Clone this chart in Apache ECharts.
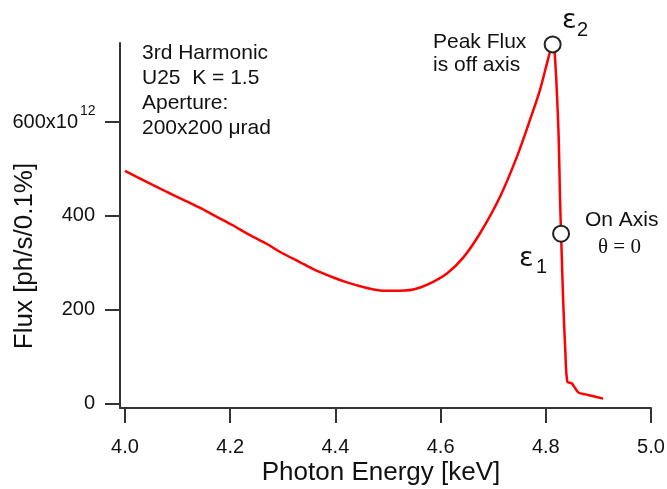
<!DOCTYPE html>
<html><head><meta charset="utf-8">
<script src="https://cdn.jsdelivr.net/npm/echarts@6/dist/echarts.min.js"></script>
<style>html,body{margin:0;padding:0;background:#fff}#c{width:667px;height:489px}</style>
</head><body><div id="c"></div>
<script>
const energy = [4.000, 4.044, 4.080, 4.108, 4.143, 4.171, 4.205, 4.234, 4.270, 4.295, 4.333, 4.357, 4.395, 4.422, 4.460, 4.485, 4.510, 4.548, 4.580, 4.612, 4.643, 4.675, 4.713, 4.745, 4.770, 4.789, 4.804, 4.813, 4.817, 4.824, 4.827, 4.829, 4.830, 4.833, 4.837, 4.841, 4.849, 4.856, 4.862, 4.875, 4.887, 4.909];
const flux = [496, 471, 451, 436, 417, 400, 380, 361, 340, 323, 301, 287, 269, 258, 246, 241, 240, 243, 256, 277, 311, 363, 441, 526, 605, 669, 733, 765, 747, 583, 441, 362, 327, 220, 114, 46, 43, 32, 23, 19, 16, 10];
const markerEnergy = [4.813, 4.829];
const markerFlux = [766, 362];
const xTicks = [4.0, 4.2, 4.4, 4.6, 4.8, 5.0];
const yTicks = [0, 200, 400, 600];
const xTitle = 'Photon Energy [keV]';
const yTitle = 'Flux [ph/s/0.1%]';

const FONT = '"Liberation Sans", Arial, Helvetica, sans-serif';
const TXT = '#111';
const AX = '#333';

function txt(text, x, y, size, opts) {
  opts = opts || {};
  const align = opts.align || 'left';
  return {
    type: 'text', x: x, y: y, rotation: opts.rotation || 0, z: 10,
    style: {
      text: text, fontSize: size, fontFamily: opts.family || FONT, fill: TXT,
      align: align, verticalAlign: 'middle', textAlign: align, textVerticalAlign: 'middle'
    }
  };
}

const chart = echarts.init(document.getElementById('c'), null, {renderer: 'canvas'});
chart.setOption({
  animation: false,
  backgroundColor: '#fff',
  grid: {left: 120, right: 16, top: 43, bottom: 81, containLabel: false, outerBoundsMode: 'none'},
  xAxis: {
    type: 'value', min: 3.9905, max: 5.0,
    axisLine: {show: true, onZero: false, lineStyle: {color: AX, width: 2}},
    axisTick: {show: true, inside: false, length: 15, customValues: xTicks, lineStyle: {color: AX, width: 2}},
    axisLabel: {customValues: xTicks, formatter: v => Number(v).toFixed(1), fontSize: 20, fontFamily: FONT, color: TXT, margin: 29},
    splitLine: {show: false}, minorTick: {show: false}
  },
  yAxis: {
    type: 'value', min: -10, max: 769,
    axisLine: {show: true, onZero: false, lineStyle: {color: AX, width: 2}},
    axisTick: {show: true, inside: false, length: 15, customValues: yTicks, lineStyle: {color: AX, width: 2}},
    axisLabel: {
      customValues: yTicks, margin: 25, color: TXT, fontFamily: FONT, fontSize: 20,
      formatter: v => (v === 600 ? '{a|600x10}{s|}' : '{a|' + v + '}'),
      rich: {
        a: {fontSize: 20, fontFamily: FONT, color: TXT},
        s: {width: 17, fontSize: 20}
      }
    },
    splitLine: {show: false}
  },
  series: [
    {
      type: 'line', data: energy.map((e, i) => [e, flux[i]]), showSymbol: false, symbol: 'none',
      smooth: 0.3,
      lineStyle: {color: '#ff0000', width: 2.5}, z: 2, clip: false
    },
    {
      type: 'scatter', data: markerEnergy.map((e, i) => [e, markerFlux[i]]), symbol: 'circle', symbolSize: 16,
      itemStyle: {color: '#fff', borderColor: '#222', borderWidth: 2, opacity: 1}, z: 3, clip: false
    }
  ],
  graphic: [
    txt('12', 80, 111.5, 14),
    txt(xTitle, 381, 473, 26, {align: 'center'}),
    txt(yTitle, 25, 256, 26, {align: 'center', rotation: Math.PI / 2}),
    txt('3rd Harmonic', 142, 53.7, 21),
    txt('U25  K = 1.5', 142, 78.6, 21),
    txt('Aperture:', 142, 103.5, 21),
    txt('200x200 \u03bcrad', 142, 128.4, 21),
    txt('Peak Flux', 433, 42.2, 21),
    txt('is off axis', 433, 65, 21),
    txt('On Axis', 585, 220, 21),
    txt('\u03b8 = 0', 598, 247.5, 21, {family: '"Liberation Serif", "Times New Roman", serif'}),
    txt('\u03b5', 562, 21, 27, {family: '"DejaVu Sans", sans-serif'}),
    txt('2', 577, 30, 20),
    txt('\u03b5', 519, 259, 27, {family: '"DejaVu Sans", sans-serif'}),
    txt('1', 536, 267.5, 20)
  ]
});
</script>
</body></html>
